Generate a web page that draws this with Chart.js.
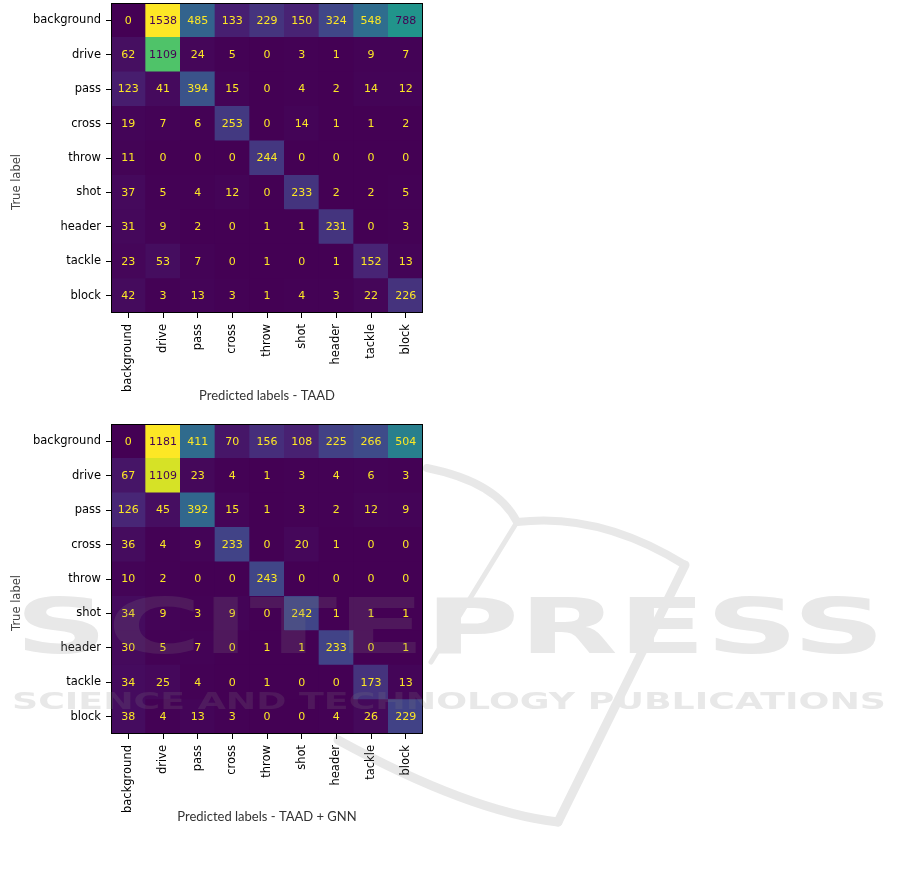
<!DOCTYPE html>
<html>
<head>
<meta charset="utf-8">
<script src="https://cdn.jsdelivr.net/npm/chart.js@4.4.1/dist/chart.umd.min.js"></script>
<style>
body { margin: 0; background: #fff; width: 901px; height: 884px; overflow: hidden; position: relative; }
canvas { position: absolute; left: 0; }
#top { top: 0; }
#bottom { top: 421px; }
</style>
</head>
<body>
<canvas id="top" width="901" height="420"></canvas>
<canvas id="bottom" width="901" height="463"></canvas>
<script>
var trueLabels = ['background', 'drive', 'pass', 'cross', 'throw', 'shot', 'header', 'tackle', 'block'];
var predictedLabels = ['background', 'drive', 'pass', 'cross', 'throw', 'shot', 'header', 'tackle', 'block'];

// TAAD, one row per true label
var taadBackground = [0, 1538, 485, 133, 229, 150, 324, 548, 788];
var taadDrive = [62, 1109, 24, 5, 0, 3, 1, 9, 7];
var taadPass = [123, 41, 394, 15, 0, 4, 2, 14, 12];
var taadCross = [19, 7, 6, 253, 0, 14, 1, 1, 2];
var taadThrow = [11, 0, 0, 0, 244, 0, 0, 0, 0];
var taadShot = [37, 5, 4, 12, 0, 233, 2, 2, 5];
var taadHeader = [31, 9, 2, 0, 1, 1, 231, 0, 3];
var taadTackle = [23, 53, 7, 0, 1, 0, 1, 152, 13];
var taadBlock = [42, 3, 13, 3, 1, 4, 3, 22, 226];

// TAAD + GNN
var gnnBackground = [0, 1181, 411, 70, 156, 108, 225, 266, 504];
var gnnDrive = [67, 1109, 23, 4, 1, 3, 4, 6, 3];
var gnnPass = [126, 45, 392, 15, 1, 3, 2, 12, 9];
var gnnCross = [36, 4, 9, 233, 0, 20, 1, 0, 0];
var gnnThrow = [10, 2, 0, 0, 243, 0, 0, 0, 0];
var gnnShot = [34, 9, 3, 9, 0, 242, 1, 1, 1];
var gnnHeader = [30, 5, 7, 0, 1, 1, 233, 0, 1];
var gnnTackle = [34, 25, 4, 0, 1, 0, 0, 173, 13];
var gnnBlock = [38, 4, 13, 3, 0, 0, 4, 26, 229];

var taadMatrix = [taadBackground, taadDrive, taadPass, taadCross, taadThrow, taadShot, taadHeader, taadTackle, taadBlock];
var gnnMatrix = [gnnBackground, gnnDrive, gnnPass, gnnCross, gnnThrow, gnnShot, gnnHeader, gnnTackle, gnnBlock];

var viridisStops = ['#440154', '#482475', '#414487', '#355f8d', '#2a788e', '#21918c', '#22a884', '#44bf70', '#7ad151', '#bddf26', '#fde725'];

function hexToRgb(h) {
    return [parseInt(h.substr(1, 2), 16), parseInt(h.substr(3, 2), 16), parseInt(h.substr(5, 2), 16)];
}

function viridis(t) {
    t = Math.max(0, Math.min(1, t));
    var pos = t * (viridisStops.length - 1);
    var i = Math.min(Math.floor(pos), viridisStops.length - 2);
    var f = pos - i;
    var a = hexToRgb(viridisStops[i]), b = hexToRgb(viridisStops[i + 1]);
    return 'rgb(' + [0, 1, 2].map(function(k) {
        return Math.round(a[k] + (b[k] - a[k]) * f);
    }).join(',') + ')';
}

Chart.defaults.font.family = 'DejaVu Sans';

var cellText = {
    id: 'cellText',
    afterDatasetsDraw: function(chart, args, opts) {
        var ctx = chart.ctx;
        var meta = chart.getDatasetMeta(0);
        var data = chart.data.datasets[0].data;
        ctx.save();
        ctx.font = '11px "DejaVu Sans"';
        ctx.textAlign = 'center';
        ctx.textBaseline = 'middle';
        meta.data.forEach(function(bar, k) {
            var v = data[k].v;
            var p = bar.getCenterPoint();
            ctx.fillStyle = v >= opts.max / 2 ? '#440154' : '#fde725';
            ctx.fillText(String(v), p.x, p.y + 0.5);
        });
        var a = chart.chartArea;
        ctx.strokeStyle = '#000';
        ctx.lineWidth = 1;
        ctx.strokeRect(a.left + 0.5, a.top + 0.5, a.right - a.left - 1, a.bottom - a.top - 1);
        // y title, sits a bit below the middle like in the original
        ctx.translate(17, a.top + 179);
        ctx.rotate(-Math.PI / 2);
        ctx.fillStyle = '#444';
        ctx.font = '11.5px "DejaVu Sans"';
        ctx.fillText('True label', 0, 0);
        ctx.restore();
    }
};

// faint publisher mark drawn over the lower chart
var watermark = {
    id: 'watermark',
    afterDraw: function(chart, args, opts) {
        if (!opts.show) return;
        var off = document.createElement('canvas');
        off.width = chart.width;
        off.height = chart.height;
        var c = off.getContext('2d');
        var dy = -421;
        c.fillStyle = '#808080';
        c.strokeStyle = '#808080';
        c.lineCap = 'round';
        c.lineWidth = 8;
        c.beginPath();
        c.moveTo(427, 468 + dy);
        c.quadraticCurveTo(497, 482 + dy, 517, 522 + dy);
        c.quadraticCurveTo(600, 512 + dy, 685, 565 + dy);
        c.stroke();
        c.lineWidth = 9;
        c.beginPath();
        c.moveTo(685, 565 + dy);
        c.lineTo(558, 822 + dy);
        c.stroke();
        c.beginPath();
        c.moveTo(338, 740 + dy);
        c.quadraticCurveTo(470, 812 + dy, 558, 822 + dy);
        c.stroke();
        c.lineWidth = 5;
        c.beginPath();
        c.moveTo(517, 522 + dy);
        c.lineTo(431, 662 + dy);
        c.stroke();
        c.textBaseline = 'alphabetic';
        c.textAlign = 'left';
        c.font = 'bold 76px "DejaVu Sans"';
        var w = c.measureText('SCITEPRESS').width;
        c.save();
        c.translate(15, 653 + dy);
        c.scale(870 / w, 1);
        c.fillText('SCITEPRESS', 0, 0);
        c.restore();
        c.font = 'bold 23px "DejaVu Sans"';
        w = c.measureText('SCIENCE AND TECHNOLOGY PUBLICATIONS').width;
        c.save();
        c.translate(12, 709 + dy);
        c.scale(874 / w, 1);
        c.fillText('SCIENCE AND TECHNOLOGY PUBLICATIONS', 0, 0);
        c.restore();
        var ctx = chart.ctx;
        ctx.save();
        ctx.globalAlpha = 0.18;
        ctx.drawImage(off, 0, 0);
        ctx.restore();
    }
};

function makeConfig(matrix, title, bottomPad, showMark) {
    var max = 0;
    var cells = [];
    matrix.forEach(function(row) {
        row.forEach(function(v) { if (v > max) max = v; });
    });
    matrix.forEach(function(row, i) {
        row.forEach(function(v, j) {
            cells.push({x: [j, j + 1], y: trueLabels[i], v: v});
        });
    });
    var tickGrid = {drawOnChartArea: false, offset: false, tickLength: 5, color: '#000', lineWidth: 1};
    return {
        type: 'bar',
        data: {
            labels: trueLabels,
            datasets: [{
                data: cells,
                backgroundColor: function(c) { return c.raw ? viridis(c.raw.v / max) : '#440154'; },
                borderWidth: 0,
                barPercentage: 1,
                categoryPercentage: 1,
                grouped: false
            }]
        },
        options: {
            indexAxis: 'y',
            responsive: false,
            animation: false,
            layout: {padding: {left: 0, top: 3, right: 478, bottom: bottomPad}},
            plugins: {
                legend: {display: false},
                tooltip: {enabled: false},
                cellText: {max: max},
                watermark: {show: showMark}
            },
            scales: {
                x: {type: 'linear', min: 0, max: 9, display: false},
                y: {
                    type: 'category',
                    labels: trueLabels,
                    offset: true,
                    grid: tickGrid,
                    border: {display: false},
                    ticks: {color: '#000', font: {size: 11.5}, padding: 5},
                    afterFit: function(s) {
                        s.width = 111;
                        s.paddingTop = 0;
                        s.paddingBottom = 0;
                    }
                },
                xLabels: {
                    type: 'category',
                    position: 'bottom',
                    labels: predictedLabels,
                    offset: true,
                    grid: tickGrid,
                    border: {display: false},
                    ticks: {color: '#000', font: {size: 11.5}, padding: 6, minRotation: 90, maxRotation: 90, autoSkip: false},
                    title: {display: true, text: title, color: '#333', font: {family: 'Lato', size: 13}, padding: {top: 0, bottom: 16}},
                    afterFit: function(s) { s.height = 107; }
                }
            }
        },
        plugins: [cellText, watermark]
    };
}

new Chart(document.getElementById('top'), makeConfig(taadMatrix, 'Predicted labels - TAAD', 0, false));
new Chart(document.getElementById('bottom'), makeConfig(gnnMatrix, 'Predicted labels - TAAD + GNN', 43, true));
</script>
</body>
</html>
